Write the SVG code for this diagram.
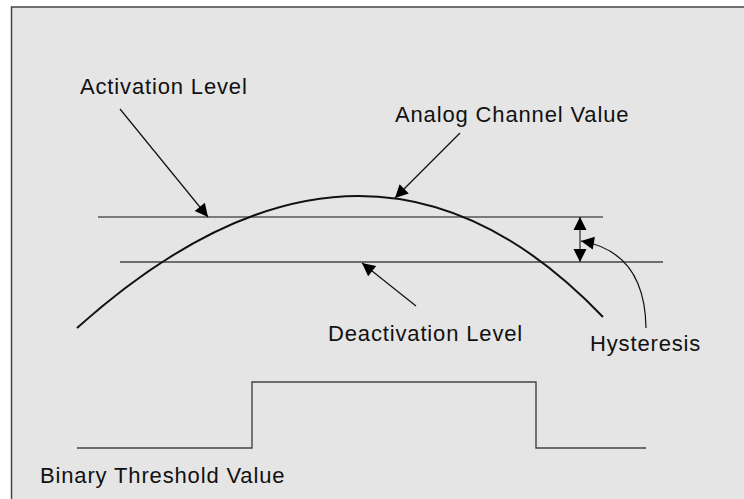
<svg xmlns="http://www.w3.org/2000/svg" width="744" height="499" viewBox="0 0 744 499">
<style>
text{font-family:"Liberation Sans",Arial,sans-serif;font-size:22px;letter-spacing:0.85px;fill:#111}
.ln{fill:none;stroke:#111;stroke-width:1.2}
.gl{fill:none;stroke:#444;stroke-width:1.4}
</style>
<defs>
<marker id="ah" markerUnits="userSpaceOnUse" markerWidth="16" markerHeight="16" viewBox="0 0 16 16" refX="14" refY="8" orient="auto-start-reverse">
<path d="M1,1.5 L14,8 L1,14.5 Z" fill="#000"/>
</marker>
</defs>
<rect x="0" y="0" width="744" height="499" fill="#fff"/>
<rect x="11.5" y="7" width="740" height="500" fill="#e5e5e5" stroke="#444" stroke-width="1.5"/>
<g id="activation-line"><line class="ln" x1="98" y1="217" x2="603" y2="217"/></g>
<g id="deactivation-line"><line class="gl" x1="120" y1="262" x2="663" y2="262"/></g>
<g id="analog-curve"><path d="M77,328 Q366,69.5 603,317" fill="none" stroke="#111" stroke-width="2"/></g>
<g id="binary-step"><path class="gl" d="M77,448 H252 V382 H536 V448 H646"/></g>
<g id="connectors">
<line class="ln" x1="120" y1="109" x2="208" y2="217" marker-end="url(#ah)"/>
<line class="ln" x1="460" y1="133" x2="395" y2="198" marker-end="url(#ah)"/>
<line class="ln" x1="416" y1="306" x2="362" y2="263" marker-end="url(#ah)"/>
<line class="gl" x1="580" y1="217" x2="580" y2="262" marker-start="url(#ah)" marker-end="url(#ah)"/>
<path class="ln" d="M646,328 Q645,252 581,241" marker-end="url(#ah)"/>
</g>
<g id="label-activation"><text x="80" y="94">Activation Level</text></g>
<g id="label-analog"><text x="395" y="122">Analog Channel Value</text></g>
<g id="label-deactivation"><text x="328" y="341">Deactivation Level</text></g>
<g id="label-hysteresis"><text x="590" y="351">Hysteresis</text></g>
<g id="label-binary"><text x="40" y="483">Binary Threshold Value</text></g>
</svg>
